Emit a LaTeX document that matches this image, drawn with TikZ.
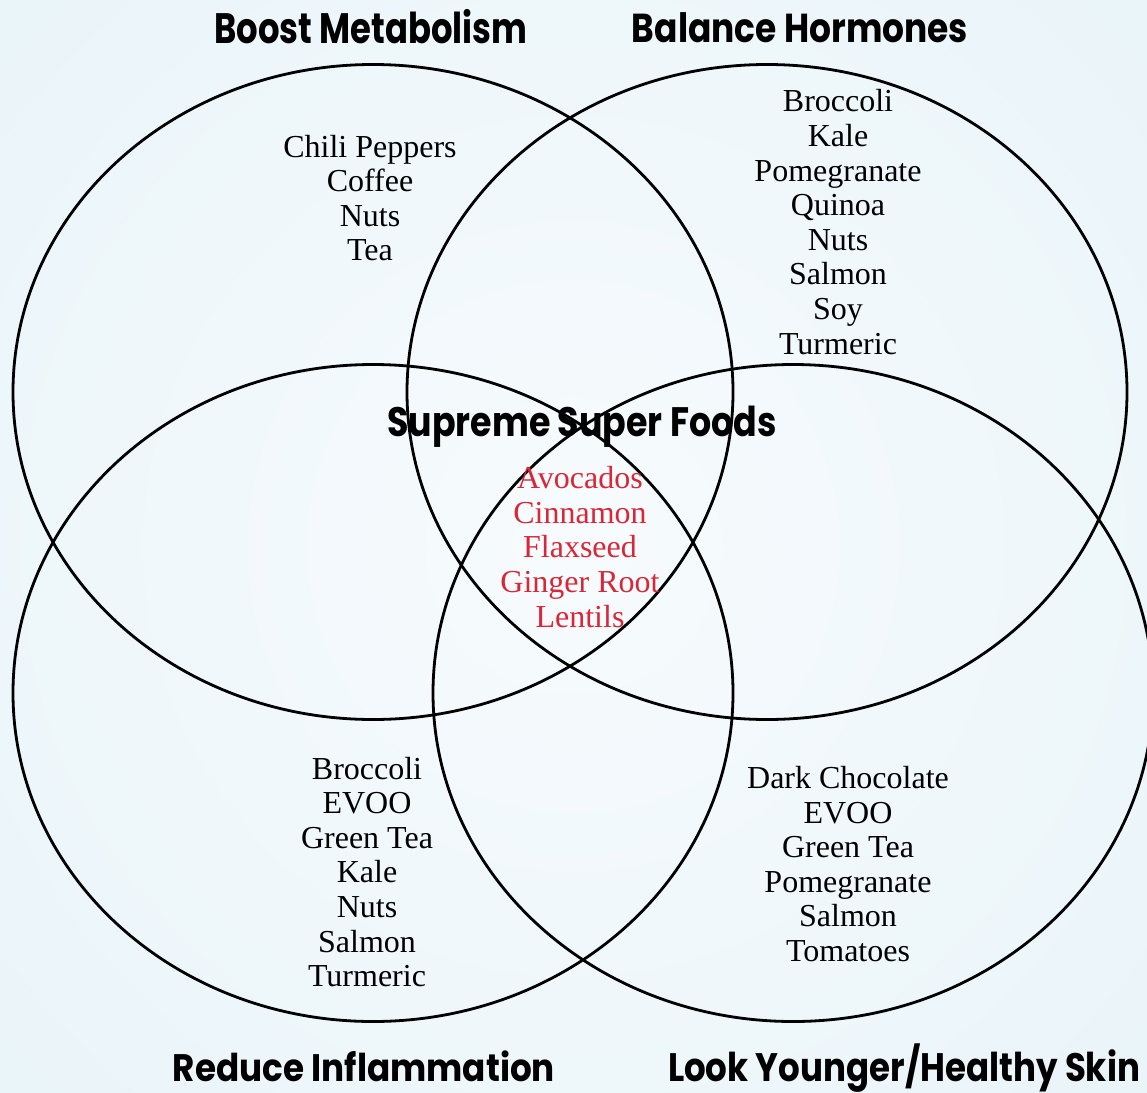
\documentclass[tikz,border=0pt]{standalone}
\usepackage{fontspec}
\setmainfont{Liberation Serif}
\newfontfamily\headfont{Poppins}
\usepackage{graphicx}
\definecolor{bgout}{RGB}{220,238,245}
\definecolor{bgin}{RGB}{247,251,253}
\definecolor{superred}{RGB}{214,40,57}
\tikzset{
  venn/.style={draw=black,line width=2.8pt},
  foodlist/.style={align=center,inner sep=0pt,font=\fontsize{32}{34.6}\selectfont},
  heading/.style={anchor=base,inner sep=0pt},
}
\newcommand{\headtxt}[3]{\resizebox{#1pt}{#2pt}{\headfont\bfseries\raisebox{0pt}[\fontcharht\font`l]{#3}}}
\begin{document}
\begin{tikzpicture}[x=1pt,y=-1pt]
\useasboundingbox (0,0) rectangle (1147,1092);
\begin{scope}
\clip (0,0) rectangle (1147,1092);
\shade[inner color=bgin,outer color=bgout] (-1027,-1054) rectangle (2173,2146);
\draw[venn] (373,392) ellipse [x radius=360pt,y radius=327.5pt];
\draw[venn] (767,392) ellipse [x radius=360pt,y radius=327.5pt];
\draw[venn] (373,693) ellipse [x radius=360pt,y radius=328.5pt];
\draw[venn] (793,693) ellipse [x radius=360pt,y radius=328.5pt];
\end{scope}
\node[heading] (boost) at (371,43) {\headtxt{313}{30}{Boost Metabolism}};
\node[heading] (balance) at (800,42) {\headtxt{336}{28.5}{Balance Hormones}};
\node[heading] (supreme) at (582,436) {\headtxt{389}{29}{Supreme Super Foods}};
\node[heading] (reduce) at (364,1081) {\headtxt{382}{27}{Reduce Inflammation}};
\node[heading] (look) at (904,1081) {\headtxt{472}{28}{Look Younger/Healthy Skin}};
\node[foodlist] (tl) at (370,198) {Chili Peppers\\Coffee\\Nuts\\Tea};
\node[foodlist] (tr) at (838,222) {Broccoli\\Kale\\Pomegranate\\Quinoa\\Nuts\\Salmon\\Soy\\Turmeric};
\node[foodlist,text=superred] (mid) at (580,547) {Avocados\\Cinnamon\\Flaxseed\\Ginger Root\\Lentils};
\node[foodlist] (bl) at (367,872) {Broccoli\\EVOO\\Green Tea\\Kale\\Nuts\\Salmon\\Turmeric};
\node[foodlist] (br) at (848,864) {Dark Chocolate\\EVOO\\Green Tea\\Pomegranate\\Salmon\\Tomatoes};
\end{tikzpicture}
\end{document}
